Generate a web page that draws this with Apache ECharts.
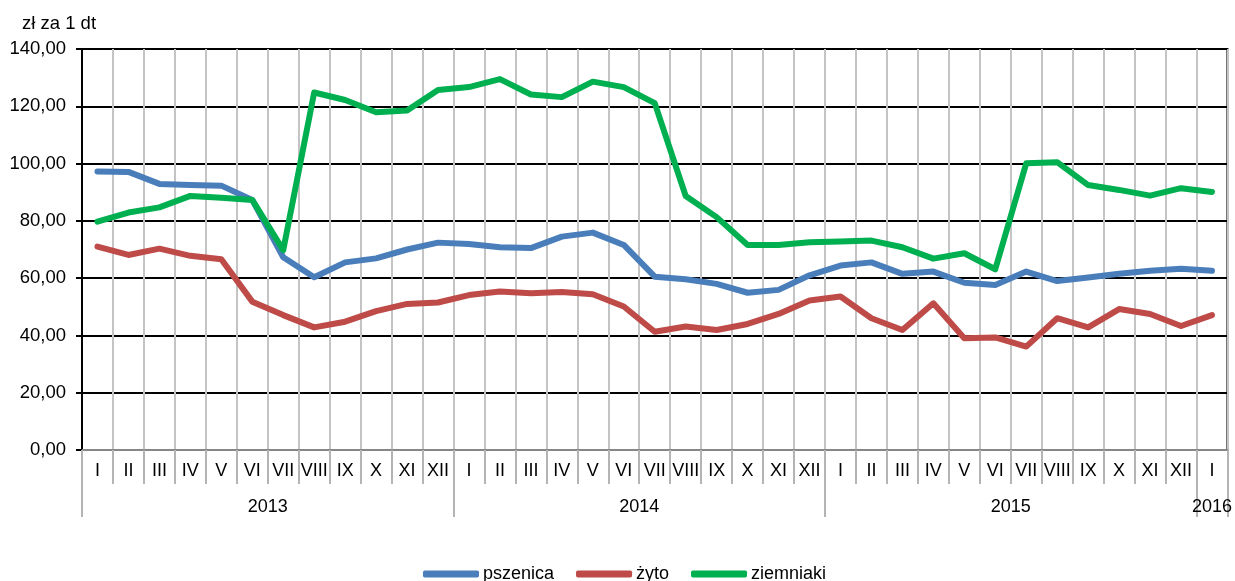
<!DOCTYPE html>
<html>
<head>
<meta charset="utf-8">
<script src="https://cdn.jsdelivr.net/npm/echarts@6/dist/echarts.min.js"></script>
<style>
html,body{margin:0;padding:0;background:#fff;}
#chart{width:1235px;height:581px;}
</style>
</head>
<body>
<div id="chart"></div>
<script>
const monthNames = ['I','II','III','IV','V','VI','VII','VIII','IX','X','XI','XII'];
const years = ['2013','2014','2015','2016'];
const monthsPerYear = [12, 12, 12, 1];
const yTicks = [0, 20, 40, 60, 80, 100, 120, 140];
const unitLabel = 'zł za 1 dt';

const seriesNames = ['pszenica', 'żyto', 'ziemniaki'];
const pszenica = [97.2,97.1,92.9,92.5,92.3,87.3,67.3,60.3,65.5,66.9,70.0,72.4,
  71.9,70.8,70.5,74.5,75.9,71.6,60.5,59.6,58.0,54.9,55.9,61.0,
  64.4,65.5,61.5,62.3,58.4,57.6,62.3,59.0,60.2,61.5,62.6,63.3,62.6];
const zyto = [71.0,68.1,70.3,67.8,66.6,51.8,47.1,42.8,44.8,48.5,51.0,51.5,
  54.1,55.3,54.7,55.2,54.4,50.1,41.3,43.1,41.9,44.0,47.5,52.2,
  53.6,46.0,41.9,51.2,39.0,39.3,36.1,46.0,42.8,49.2,47.5,43.3,47.1];
const ziemniaki = [79.7,82.9,84.7,88.7,88.1,87.3,69.8,124.8,122.2,117.9,118.5,125.7,
  126.7,129.5,124.1,123.2,128.6,126.7,121.1,88.7,81.3,71.6,71.6,72.5,
  72.8,73.1,70.8,66.8,68.7,63.1,100.1,100.5,92.5,90.8,88.8,91.4,90.1];

// build categories and year positions from counts
const categories = [];
const yearCenters = [];
const yearBounds = [0];
let acc = 0;
monthsPerYear.forEach((n, k) => {
  for (let m = 0; m < n; m++) categories.push(monthNames[m]);
  yearCenters.push(n > 1 ? acc + n / 2 : acc + 0.5);
  acc += n;
  yearBounds.push(acc);
});
const yearTickVals = yearBounds.slice();

const FONT = "'Liberation Sans', Arial, sans-serif";
const colors = ['#4A7EBB', '#BE4B48', '#00B050'];

const chart = echarts.init(document.getElementById('chart'), null, {renderer: 'canvas'});
const mkLine = (name, data, color) => ({
  name, type: 'line', data, symbol: 'none', smooth: false,
  xAxisIndex: 0, yAxisIndex: 0,
  lineStyle: {color, width: 6, cap: 'round', join: 'round'},
  itemStyle: {color},
  emphasis: {disabled: true}
});

chart.setOption({
  animation: false,
  backgroundColor: '#fff',
  textStyle: {fontFamily: FONT},
  title: {
    text: unitLabel, left: 17, top: 9,
    textStyle: {fontFamily: FONT, fontSize: 18.5, fontWeight: 'normal', color: '#000'}
  },
  grid: {
    left: 82, right: 6, top: 49, bottom: 131,
    show: true, borderColor: '#000', borderWidth: 2, backgroundColor: 'transparent'
  },
  legend: {
    left: 418, top: 560, itemGap: 22, itemWidth: 56, itemHeight: 7,
    icon: 'roundRect',
    textStyle: {fontFamily: FONT, fontSize: 18, color: '#000', padding: [0,0,0,-1]},
    data: seriesNames
  },
  xAxis: [
    {
      type: 'category', data: categories, boundaryGap: true, position: 'bottom',
      axisLine: {show: true, lineStyle: {color: '#868686', width: 2}},
      axisTick: {show: true, interval: 0, length: 34, lineStyle: {color: '#b4b4b4', width: 2}},
      axisLabel: {interval: 0, margin: 12, fontSize: 18, color: '#000', fontFamily: FONT},
      splitLine: {show: true, interval: 0, lineStyle: {color: '#c4c4c4', width: 2}}
    },
    {
      type: 'value', min: 0, max: categories.length, position: 'bottom',
      axisLine: {show: false},
      splitLine: {show: false},
      axisTick: {show: true, length: 67, customValues: yearTickVals, lineStyle: {color: '#b4b4b4', width: 2}},
      axisLabel: {
        show: true, customValues: yearCenters, margin: 48, fontSize: 18, color: '#000', fontFamily: FONT,
        formatter: (v) => {
          let best = 0, bd = 1e9;
          yearCenters.forEach((c, i) => { const d = Math.abs(c - v); if (d < bd) { bd = d; best = i; } });
          return years[best];
        }
      }
    }
  ],
  yAxis: {
    type: 'value', min: yTicks[0], max: yTicks[yTicks.length - 1], interval: yTicks[1] - yTicks[0],
    axisLine: {show: true, lineStyle: {color: '#000', width: 2}},
    axisTick: {show: true, length: 6, lineStyle: {color: '#000', width: 2}},
    axisLabel: {
      margin: 16, fontSize: 18.5, color: '#000', fontFamily: FONT,
      formatter: (v) => v.toFixed(2).replace('.', ',')
    },
    splitLine: {show: true, lineStyle: {color: '#000', width: 2}}
  },
  series: [
    mkLine(seriesNames[0], pszenica, colors[0]),
    mkLine(seriesNames[1], zyto, colors[1]),
    mkLine(seriesNames[2], ziemniaki, colors[2])
  ]
});
</script>
</body>
</html>
